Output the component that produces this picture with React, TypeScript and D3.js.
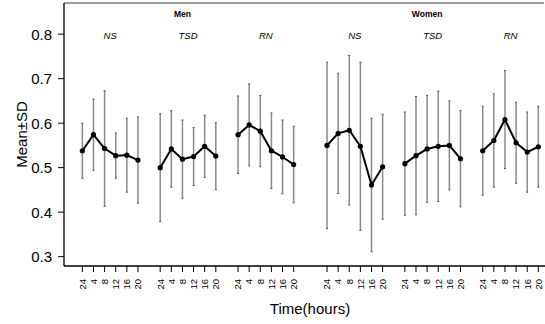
import React from "react";
import * as d3 from "d3";

const hours = ["24", "4", "8", "12", "16", "20"];
const sexes = ["Men", "Women"];
const conditions = ["NS", "TSD", "RN"];

const menNSMean = [0.538, 0.574, 0.543, 0.527, 0.528, 0.517];
const menNSSd = [0.062, 0.080, 0.130, 0.051, 0.083, 0.097];
const menTSDMean = [0.500, 0.542, 0.519, 0.525, 0.548, 0.526];
const menTSDSd = [0.121, 0.086, 0.088, 0.065, 0.070, 0.075];
const menRNMean = [0.574, 0.596, 0.582, 0.538, 0.524, 0.507];
const menRNSd = [0.087, 0.092, 0.080, 0.085, 0.083, 0.086];
const womenNSMean = [0.550, 0.577, 0.584, 0.548, 0.461, 0.502];
const womenNSSd = [0.187, 0.135, 0.168, 0.189, 0.150, 0.118];
const womenTSDMean = [0.509, 0.527, 0.542, 0.548, 0.550, 0.520];
const womenTSDSd = [0.116, 0.133, 0.120, 0.124, 0.100, 0.108];
const womenRNMean = [0.538, 0.561, 0.608, 0.556, 0.535, 0.547];
const womenRNSd = [0.100, 0.105, 0.110, 0.091, 0.090, 0.091];

const yTicks = [0.3, 0.4, 0.5, 0.6, 0.7, 0.8];

const groupMeans = [menNSMean, menTSDMean, menRNMean, womenNSMean, womenTSDMean, womenRNMean];
const groupSds = [menNSSd, menTSDSd, menRNSd, womenNSSd, womenTSDSd, womenRNSd];

const W = 545;
const H = 324;
const left = 64;
const right = 545;
const top = 3;
const bottom = 266;
const FONT = "Liberation Sans, Arial, Helvetica, sans-serif";

// position index of each group start
const groupStart = (g: number) => Math.floor(g / 3) * 22 + (g % 3) * 7;

export default function App() {
  const x = d3.scaleLinear().domain([-1.65, 41.6]).range([left, right]);
  const y = d3.scaleLinear().domain([0.279, 0.870]).range([bottom, top]);
  const line = d3
    .line<number>()
    .x((_, i) => 0)
    .y((d) => y(d));

  const groups = groupMeans.map((means, g) => {
    const s = groupStart(g);
    const pts = means.map((m, i) => ({ px: x(s + i), m, sd: groupSds[g][i] }));
    const path = d3
      .line<{ px: number; m: number }>()
      .x((d) => d.px)
      .y((d) => y(d.m))(pts);
    return { g, s, pts, path };
  });

  return (
    <svg
      width={W}
      height={H}
      style={{ position: "absolute", left: 0, top: 0, display: "block", background: "#fff" }}
      fontFamily={FONT}
    >
      <rect x={0} y={0} width={W} height={H} fill="#fff" />
      {/* frame */}
      <line x1={left} x2={544} y1={top} y2={top} stroke="#7a7a7a" strokeWidth={1.3} />
      <line x1={left} x2={left} y1={top} y2={bottom} stroke="#000" strokeWidth={1.3} />
      <line x1={left} x2={right} y1={bottom} y2={bottom} stroke="#000" strokeWidth={1.3} />

      {/* y axis */}
      {yTicks.map((t) => (
        <g key={t}>
          <line x1={left - 6} x2={left} y1={y(t)} y2={y(t)} stroke="#000" strokeWidth={1} />
          <text x={left - 12} y={y(t)} dy="0.36em" textAnchor="end" fontSize={15}>
            {t.toFixed(1)}
          </text>
        </g>
      ))}
      <text
        transform={`translate(26.5,${(top + bottom) / 2}) rotate(-90)`}
        textAnchor="middle"
        fontSize={15}
      >
        Mean±SD
      </text>

      {/* x axis ticks */}
      {groups.map(({ g, s }) =>
        hours.map((h, i) => (
          <g key={`${g}-${i}`}>
            <line x1={x(s + i)} x2={x(s + i)} y1={bottom} y2={bottom + 6} stroke="#000" strokeWidth={1} />
            <text
              transform={`translate(${x(s + i)},${bottom + 13}) rotate(-90)`}
              textAnchor="end"
              dy="0.35em"
              fontSize={9.5}
            >
              {h}
            </text>
          </g>
        ))
      )}
      <text x={310} y={314} textAnchor="middle" fontSize={15}>
        Time(hours)
      </text>

      {/* headers */}
      {sexes.map((sx, k) => (
        <text key={sx} x={x(k * 22 + 9)} y={17} textAnchor="middle" fontSize={8.5} fontWeight="bold">
          {sx}
        </text>
      ))}
      {groups.map(({ g, s }) => (
        <text
          key={`c${g}`}
          x={x(s + 2.5)}
          y={39}
          textAnchor="middle"
          fontSize={9.5}
          fontStyle="italic"
        >
          {conditions[g % 3]}
        </text>
      ))}

      {/* error bars */}
      {groups.map(({ g, pts }) =>
        pts.map((p, i) => (
          <g key={`e${g}-${i}`}>
            <line x1={p.px} x2={p.px} y1={y(p.m + p.sd)} y2={y(p.m - p.sd)} stroke="#8a8a8a" strokeWidth={1.5} />
            <line x1={p.px - 1} x2={p.px + 1} y1={y(p.m + p.sd)} y2={y(p.m + p.sd)} stroke="#555" strokeWidth={1} />
            <line x1={p.px - 1} x2={p.px + 1} y1={y(p.m - p.sd)} y2={y(p.m - p.sd)} stroke="#555" strokeWidth={1} />
          </g>
        ))
      )}

      {/* mean lines */}
      {groups.map(({ g, path, pts }) => (
        <g key={`l${g}`}>
          <path d={path || ""} fill="none" stroke="#000" strokeWidth={2} strokeLinejoin="round" />
          {pts.map((p, i) => (
            <circle key={i} cx={p.px} cy={y(p.m)} r={2.6} fill="#000" />
          ))}
        </g>
      ))}
    </svg>
  );
}
